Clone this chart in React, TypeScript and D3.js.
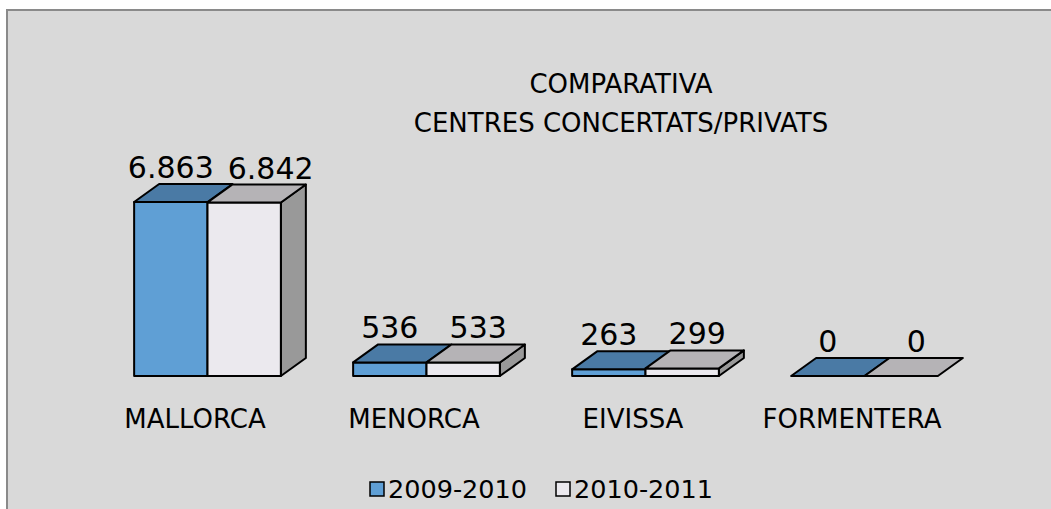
import React, { useEffect, useRef } from 'react';
import * as d3 from 'd3';

const categories = ['MALLORCA', 'MENORCA', 'EIVISSA', 'FORMENTERA'];
const seriesNames = ['2009-2010', '2010-2011'];
const values2009 = [6863, 536, 263, 0];
const values2010 = [6842, 533, 299, 0];
const titleLines = ['COMPARATIVA', 'CENTRES CONCERTATS/PRIVATS'];

const W = 1051;
const H = 509;
const FONT = '"DejaVu Sans", "Noto Sans", sans-serif';

// front / top / side shades per series
const palette = [
  { front: '#5f9fd5', top: '#4a7aa5', side: '#3e6a92' },
  { front: '#ebe9ee', top: '#b5b3b6', side: '#999999' },
];

const App = () => {
  const svgRef = useRef(null);

  useEffect(() => {
    const svg = d3.select(svgRef.current);
    svg.selectAll('*').remove(); // Clear previous contents

    const series = [values2009, values2010];
    const fmt = d3.formatLocale({ decimal: ',', thousands: '.', grouping: [3], currency: ['', '€'] }).format(',');

    // depth of the 3D extrusion
    const dx = 25;
    const dy = 18;

    const x0 = d3.scaleBand()
      .domain(categories)
      .range([98, 974])
      .paddingInner(0.33)
      .paddingOuter(0.165);

    const x1 = d3.scaleBand()
      .domain(seriesNames)
      .range([0, x0.bandwidth()]);

    const y = d3.scaleLinear()
      .domain([0, 7000])
      .range([376, 198.5]);

    // panel background
    svg.append('rect')
      .attr('x', 7)
      .attr('y', 10)
      .attr('width', W + 40)
      .attr('height', H + 40)
      .attr('fill', '#d9d9d9')
      .attr('stroke', '#8a8a8a')
      .attr('stroke-width', 2);

    // title
    const title = svg.append('text')
      .attr('x', 621)
      .attr('y', 93)
      .attr('text-anchor', 'middle')
      .attr('font-family', FONT)
      .attr('font-size', 26)
      .attr('fill', '#000');
    titleLines.forEach((line, i) => {
      title.append('tspan')
        .attr('x', 621)
        .attr('dy', i === 0 ? 0 : 39)
        .text(line);
    });

    const bars = svg.append('g');
    const labels = svg.append('g')
      .attr('font-family', FONT)
      .attr('font-size', 30)
      .attr('text-anchor', 'middle')
      .attr('fill', '#000');

    categories.forEach((cat, i) => {
      let prevRight = -Infinity;
      seriesNames.forEach((s, j) => {
        const v = series[j][i];
        const c = palette[j];
        const x = x0(cat) + x1(s);
        const w = x1.bandwidth();
        const yt = y(v);
        const yb = y(0);
        const g = bars.append('g')
          .attr('stroke', '#000')
          .attr('stroke-width', 2)
          .attr('stroke-linejoin', 'round');

        if (j === seriesNames.length - 1 && yb - yt > 0) {
          g.append('path')
            .attr('d', `M${x + w},${yt}L${x + w + dx},${yt - dy}L${x + w + dx},${yb - dy}L${x + w},${yb}Z`)
            .attr('fill', c.side);
        }
        if (yb - yt > 0) {
          g.append('rect')
            .attr('x', x)
            .attr('y', yt)
            .attr('width', w)
            .attr('height', yb - yt)
            .attr('fill', c.front);
        }
        g.append('path')
          .attr('d', `M${x},${yt}L${x + dx},${yt - dy}L${x + w + dx},${yt - dy}L${x + w},${yt}Z`)
          .attr('fill', c.top);

        const t = labels.append('text')
          .attr('x', x + w / 2 + j * 15)
          .attr('y', yt - dy - 6)
          .text(fmt(v));
        const tw = t.node().getComputedTextLength();
        let cx = x + w / 2 + j * 15;
        if (cx - tw / 2 < prevRight + 14) cx = prevRight + 14 + tw / 2;
        t.attr('x', cx);
        prevRight = cx + tw / 2;
      });

      svg.append('text')
        .attr('x', x0(cat) + x0.bandwidth() / 2 - dx / 2)
        .attr('y', 428)
        .attr('text-anchor', 'middle')
        .attr('font-family', FONT)
        .attr('font-size', 26)
        .attr('fill', '#000')
        .text(cat);
    });

    // legend
    const legend = svg.append('g')
      .attr('font-family', FONT)
      .attr('font-size', 25.5)
      .attr('fill', '#000');
    let lx = 370;
    seriesNames.forEach((s, j) => {
      legend.append('rect')
        .attr('x', lx)
        .attr('y', 482)
        .attr('width', 14)
        .attr('height', 14)
        .attr('fill', palette[j].front)
        .attr('stroke', '#000')
        .attr('stroke-width', 1.5);
      const t = legend.append('text')
        .attr('x', lx + 18)
        .attr('y', 498)
        .text(s);
      lx += 18 + t.node().getComputedTextLength() + 29;
    });
  }, []);

  return (
    <svg
      ref={svgRef}
      width={W}
      height={H}
      style={{ position: 'fixed', left: 0, top: 0, background: '#fff' }}
    ></svg>
  );
};

export default App;
